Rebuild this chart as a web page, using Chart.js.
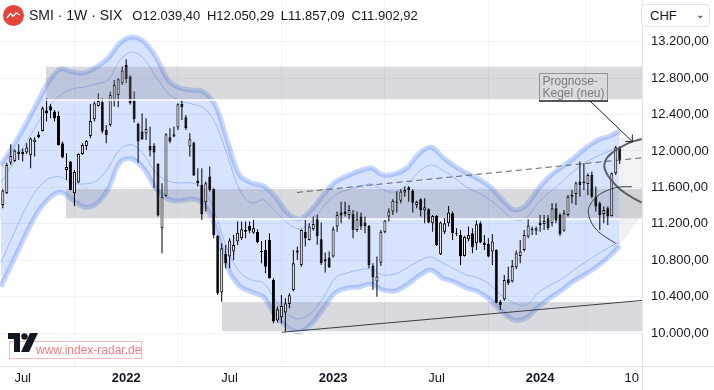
<!DOCTYPE html>
<html>
<head>
<meta charset="utf-8">
<script src="https://cdn.jsdelivr.net/npm/chart.js@4.4.1/dist/chart.umd.min.js"></script>
<style>
html,body{margin:0;padding:0;background:#fff;}
#wrap{position:relative;width:714px;height:390px;overflow:hidden;font-family:"Liberation Sans",Arial,sans-serif;color:#131722;}
#c{position:absolute;left:0;top:0;}
#hdr{position:absolute;left:3px;top:4px;height:22px;display:flex;align-items:center;white-space:nowrap;}
#hdr .sym{font-size:14px;margin-left:5px;}
#hdr .ohlc{font-size:13px;margin-left:10px;word-spacing:3px;}
#chf{position:absolute;left:641px;top:4px;width:69px;height:23px;border:1px solid #e0e3eb;border-radius:4px;box-sizing:border-box;font-size:13px;line-height:21px;padding-left:8px;background:#fff;}
#chf span{position:absolute;right:5px;top:-1px;font-size:10px;color:#131722;}
#wm{position:absolute;left:9px;top:341px;width:133px;height:18px;border:1px solid #f6b8b8;box-sizing:border-box;background:rgba(255,255,255,0.6);}
#wm span{position:absolute;left:26px;top:1px;font-size:12px;color:#f07d7d;white-space:nowrap;}
#tv{position:absolute;left:8px;top:333px;}
</style>
</head>
<body>
<div id="wrap">
<canvas id="c" width="714" height="390"></canvas>
<div id="hdr">
  <svg width="21" height="21" viewBox="0 0 21 21"><circle cx="10.5" cy="10.5" r="10.5" fill="#e5443b"/><path d="M4 13 L7.5 8.5 L10 11.5 L13 8 L17 10" stroke="#fff" stroke-width="1.3" fill="none"/></svg>
  <span class="sym">SMI · 1W · SIX</span>
  <span class="ohlc">O12.039,40 H12.050,29 L11.857,09 C11.902,92</span>
</div>
<div id="chf">CHF<span>&#8964;</span></div>
<div id="wm"><span>www.index-radar.de</span></div>
<svg id="tv" width="30" height="20" viewBox="0 0 30 20"><path d="M0 0 H12 V19 H6 V6 H0 Z" fill="#131722"/><circle cx="16.5" cy="3.5" r="3.2" fill="#131722"/><path d="M22 0 H30 L21 19 H13 Z" fill="#131722"/></svg>
</div>
<script>
// ---- candle data (weekly, index 0 = first visible week) ----
const candleOpen = [11390,11408,11536,11872,11891,11993,11990,11982,11953,12095,
12180,12220,12443,12490,12432,12384,12084,11792,11883,11536,
11653,11967,12055,12165,12348,12494,12534,12231,12286,12560,
12615,12743,12944,12816,12553,12297,12213,12191,12055,12055,
11858,11152,11510,12150,12158,12256,12516,12370,12048,12092,
11675,11627,11437,11719,11580,11068,10446,10870,10841,10896,
11006,11042,11134,11178,11104,11115,10903,10914,11024,10585,
10139,10176,10227,10322,10475,10885,10750,11115,11024,11141,
11250,11031,10812,10830,10841,11170,11324,11335,11298,11306,
11134,11280,11214,11178,10739,10567,10775,11108,11280,11335,
11433,11455,11543,11602,11562,11408,11470,11346,11360,11207,
11287,10867,11115,11207,11317,11097,11079,10848,11031,11097,
10987,11207,10995,10980,10896,10914,10347,10373,10592,10567,
10724,10848,10914,11061,11134,11126,11214,11200,11262,11207,
11371,11298,11126,11298,11499,11529,11664,11646,11638,11737,
11499,11426,11309,11371,11287,11755,12039.40];
const candleHigh = [11400,11580,11872,12074,12019,12074,12026,12084,12147,12150,
12213,12487,12578,12516,12450,12432,12103,11975,11891,11792,
11975,12084,12121,12516,12542,12633,12578,12286,12651,12779,
12798,12926,13006,12830,12651,12310,12414,12359,12267,12084,
11865,11646,12194,12249,12267,12523,12571,12395,12194,12100,
11810,11810,11664,11829,11590,11075,10987,10969,11042,11079,
11225,11225,11225,11225,11243,11141,11013,11024,11097,10603,
10293,10421,10384,10439,10914,10951,11141,11243,11207,11280,
11300,11214,10885,10896,11170,11335,11444,11444,11408,11353,
11335,11324,11280,11189,10768,10841,11134,11243,11371,11470,
11554,11580,11609,11616,11580,11455,11480,11481,11371,11298,
11298,11225,11262,11397,11335,11152,11134,11071,11170,11152,
11236,11225,11079,11042,11090,10922,10366,10640,10731,10805,
10907,11024,11134,11250,11170,11170,11298,11298,11298,11426,
11426,11317,11353,11518,11572,11664,11883,11865,11755,11774,
11609,11444,11390,11390,11763,12055,12050.29];
const candleLow = [11250,11371,11529,11847,11880,11902,11883,11967,11810,11938,
12139,12213,12322,12359,12322,12059,11920,11682,11565,11397,
11646,11957,12011,12139,12322,12487,12194,12084,12267,12487,
12480,12724,12743,12510,12311,11872,12121,12121,11938,11591,
11280,10878,11499,12084,12150,12231,12340,12231,11938,11725,
11609,11243,11335,11554,11042,10420,10347,10713,10713,10805,
10969,11024,11042,11097,11090,10987,10768,10658,10600,10110,
10117,10110,10018,10274,10457,10805,10731,10951,11017,11126,
10970,10750,10666,10715,10830,11115,11207,11280,11251,11042,
11115,11134,11097,10713,10475,10402,10739,11097,11225,11298,
11324,11426,11499,11444,11324,11371,11280,11207,11207,11115,
10958,10860,11090,11170,11024,11068,10750,10841,11006,10878,
10914,10987,10914,10834,10750,10329,10256,10358,10530,10556,
10702,10768,10896,11042,11079,11079,11115,11134,11134,11170,
11207,11068,11115,11280,11426,11408,11499,11572,11518,11481,
11335,11134,11207,11189,11280,11737,11857.09];
const candleClose = [11262,11565,11847,11946,12004,11967,11964,12037,12136,12125,
12150,12469,12414,12443,12355,12063,11927,11825,11572,11770,
11967,12066,12110,12330,12523,12549,12213,12176,12615,12724,
12787,12882,12790,12523,12348,12103,12128,12242,12004,11982,
11291,11499,12183,12103,12183,12512,12479,12253,12128,11730,
11646,11306,11646,11573,11079,10439,10933,10768,11017,10969,
11104,11141,11115,11126,11152,10998,10889,10731,10603,10128,
10263,10300,10329,10417,10768,10907,11134,11042,11170,11200,
11065,10768,10786,10724,11141,11298,11291,11309,11353,11134,
11251,11170,11178,10750,10614,10622,11115,11236,11335,11455,
11444,11554,11572,11572,11433,11444,11350,11382,11214,11287,
10969,11214,11207,11324,11097,11086,10841,11060,11079,10944,
11196,10995,10969,10841,11006,10336,10311,10585,10549,10739,
10878,10896,11079,11181,11148,11152,11189,11232,11152,11371,
11236,11090,11317,11499,11518,11646,11627,11664,11737,11499,
11390,11298,11353,11280,11755,12041,11902.92];

// ---- envelope band (sampled every 3 weeks) ----
const bandX = [0.5,3.5,6.5,9.5,12.5,15.5,18.5,21.5,24.5,27.5,30.5,33.5,36.5,39.5,42.5,45.5,48.5,51.5,54.5,57.5,
60.5,63.5,66.5,69.5,72.5,75.5,78.5,81.5,84.5,87.5,90.5,93.5,96.5,99.5,102.5,105.5,108.5,111.5,114.5,117.5,
120.5,123.5,126.5,129.5,132.5,135.5,138.5,141.5,144.5,147.5,150.5,153.5,156];
const bandOuterUpper = [11846,12044,12274,12515,12757,12899,12866,12856,12921,13020,13185,13250,13196,13031,12779,12691,12669,12647,12493,12099,
11737,11649,11616,11495,11320,11254,11353,11517,11660,11726,11780,11813,11737,11748,11813,11967,12044,11934,11835,11758,
11693,11605,11462,11353,11407,11583,11726,11824,11923,12033,12121,12164,12219];
const bandInnerUpper = [11649,11857,12066,12285,12483,12614,12680,12702,12735,12779,12998,13086,13009,12812,12636,12548,12515,12472,12296,11945,
11572,11429,11462,11331,11210,11144,11221,11386,11517,11572,11605,11638,11572,11550,11627,11769,11846,11791,11704,11605,
11539,11462,11353,11243,11265,11429,11550,11660,11780,11879,11945,12000,12033];
const bandInnerLower = [10771,11067,11353,11572,11693,11715,11649,11638,11671,11813,12022,12066,11956,11758,11671,11649,11649,11583,11298,10914,
10672,10585,10552,10365,10212,10157,10223,10387,10607,10661,10694,10705,10640,10651,10716,10793,10837,10771,10705,10640,
10607,10530,10409,10332,10310,10442,10530,10596,10694,10782,10870,10947,11002];
const bandOuterLower = [10508,10782,11056,11309,11473,11550,11462,11386,11418,11583,11879,11912,11802,11583,11473,11451,11473,11418,11155,10716,
10519,10453,10398,10190,10069,10014,10102,10267,10442,10497,10508,10541,10475,10464,10530,10629,10694,10607,10563,10497,
10453,10365,10234,10146,10168,10289,10387,10475,10574,10651,10738,10848,10958];

// ---- horizontal zones ----
const zoneStart = [11.86, 16.88, 56.08];
const zoneLow = [12559, 11254, 10014];
const zoneHigh = [12925, 11583, 10343];

// ---- trend lines ----
const dashedLineX = [74.92, 161.6];
const dashedLineY = [11545, 11925];
const supportLineX = [71.16, 161.6];
const supportLineY = [10011, 10360];

// ---- forecast cone ----
const coneUpperX = [161.53,159.17,156.51,154.14,152.73,152.13,152.49,153.82,156.08,159.02,161.53];
const coneUpperY = [12131,12102,12047,11981,11920,11846,11773,11682,11580,11492,11433];
const coneLowerX = [159.02,155.65,152.73,150.23,148.54,148.12,148.79,150.23,152.31,154.99];
const coneLowerY = [11608,11602,11564,11499,11407,11334,11224,11133,11060,10987];
const coneFillX = [156.08, 161.6];
const coneFillTop = [12154, 12154];
const coneFillBottom = [10969, 11298];
const arrowX = [148.54, 159.17];
const arrowY = [12548, 12102];
const noteX = [135.8, 152.73];
const noteY = [12859, 12552];
const noteLines = ['Prognose-', 'Kegel (neu)'];

// ---- axes ----
const xTickValues = [6, 32, 58, 84, 110, 136, 159];
const xTickLabels = ['Jul', '2022', 'Jul', '2023', 'Jul', '2024', '10'];
const yTickValues = [10000, 10400, 10800, 11200, 11600, 12000, 12400, 12800, 13200];
const xMin = 0.30, xMax = 161.6, yMin = 9641, yMax = 13656;

function fmtDE(v) {
  const s = v.toFixed(2).split('.');
  return s[0].replace(/\B(?=(\d{3})+(?!\d))/g, '.') + ',' + s[1];
}
const pts = (xs, ys) => xs.map((x, k) => ({x: x, y: ys[k]}));
const idx = candleOpen.map((_, i) => i);
const NONE = 'rgba(0,0,0,0)';

Chart.defaults.font.family = '"Liberation Sans", Arial, sans-serif';
Chart.defaults.font.size = 13;
Chart.defaults.color = '#131722';

const lineBase = {type: 'line', pointRadius: 0, tension: 0, fill: false, borderWidth: 1};
let seq = 0;
const ord = () => 100 - (++seq);

const datasets = [];
// band
datasets.push(Object.assign({}, lineBase, {data: pts(bandX, bandOuterUpper), tension: 0.35, borderColor: 'rgba(70,120,245,0.3)', borderWidth: 5, fill: '+1', backgroundColor: 'rgba(41,98,255,0.18)', order: ord()}));
datasets.push(Object.assign({}, lineBase, {data: pts(bandX, bandOuterLower), tension: 0.35, borderColor: 'rgba(70,120,245,0.3)', borderWidth: 5, order: ord()}));
datasets.push(Object.assign({}, lineBase, {data: pts(bandX, bandInnerUpper), tension: 0.35, borderColor: 'rgba(41,98,255,0.32)', order: ord()}));
datasets.push(Object.assign({}, lineBase, {data: pts(bandX, bandInnerLower), tension: 0.35, borderColor: 'rgba(41,98,255,0.32)', order: ord()}));
function zone(k) {
  datasets.push(Object.assign({}, lineBase, {data: [{x: zoneStart[k], y: zoneHigh[k]}, {x: xMax, y: zoneHigh[k]}], borderColor: NONE, borderWidth: 0, fill: '+1', backgroundColor: 'rgba(120,123,134,0.28)', order: ord()}));
  datasets.push(Object.assign({}, lineBase, {data: [{x: zoneStart[k], y: zoneLow[k]}, {x: xMax, y: zoneLow[k]}], borderColor: '#ffffff', borderWidth: 1.5, order: ord()}));
}
zone(1); zone(2);
datasets.push(Object.assign({}, lineBase, {data: pts(dashedLineX, dashedLineY), borderColor: '#5d606b', borderDash: [6, 4], order: ord()}));
datasets.push(Object.assign({}, lineBase, {data: pts(supportLineX, supportLineY), borderColor: '#3a3d45', order: ord()}));
// candles
datasets.push({type: 'bar', data: idx.map(i => ({x: i, y: [candleLow[i], candleHigh[i]]})), backgroundColor: '#000', barThickness: 1, grouped: false, minBarLength: 1, inflateAmount: 0, order: ord()});
datasets.push({type: 'bar', data: idx.map(i => ({x: i, y: [Math.min(candleOpen[i], candleClose[i]), Math.max(candleOpen[i], candleClose[i])]})),
  backgroundColor: idx.map(i => candleClose[i] >= candleOpen[i] ? '#ffffff' : '#000000'),
  borderColor: '#000000', borderWidth: 1, borderSkipped: false, barThickness: 3, grouped: false, minBarLength: 1, inflateAmount: 0, order: ord()});
zone(0);
// cone
datasets.push(Object.assign({}, lineBase, {data: pts(coneFillX, coneFillTop), borderColor: NONE, borderWidth: 0, fill: '+1', backgroundColor: 'rgba(120,123,134,0.1)', order: ord()}));
datasets.push(Object.assign({}, lineBase, {data: pts(coneFillX, coneFillBottom), borderColor: NONE, borderWidth: 0, order: ord()}));
datasets.push(Object.assign({}, lineBase, {data: pts(coneUpperX, coneUpperY), tension: 0.4, borderColor: '#5d5f66', borderWidth: 2, order: ord()}));
datasets.push(Object.assign({}, lineBase, {data: pts(coneLowerX, coneLowerY), tension: 0.4, borderColor: '#3a3c42', borderWidth: 1, order: ord()}));
datasets.push(Object.assign({}, lineBase, {data: pts(arrowX, arrowY), borderColor: '#1e1f24', order: ord()}));
datasets.push(Object.assign({}, lineBase, {data: [{x: arrowX[1] - 1.83, y: arrowY[1]}, {x: arrowX[1], y: arrowY[1]}, {x: arrowX[1], y: arrowY[1] + 79}], borderColor: '#1e1f24', order: ord()}));

const notePlugin = {
  id: 'note',
  afterDatasetsDraw(chart) {
    const xs = chart.scales.x, ys = chart.scales.y, ctx = chart.ctx;
    const l = Math.round(xs.getPixelForValue(noteX[0])) + 0.5, r = Math.round(xs.getPixelForValue(noteX[1])) + 0.5;
    const t = Math.round(ys.getPixelForValue(noteY[0])) + 0.5, b = Math.round(ys.getPixelForValue(noteY[1]));
    ctx.save();
    ctx.strokeStyle = '#8f929b'; ctx.lineWidth = 1;
    ctx.beginPath(); ctx.moveTo(l, b); ctx.lineTo(l, t); ctx.lineTo(r, t); ctx.lineTo(r, b); ctx.stroke();
    ctx.strokeStyle = '#1e1f24'; ctx.lineWidth = 1.5;
    ctx.beginPath(); ctx.moveTo(l - 0.5, b); ctx.lineTo(r + 0.5, b); ctx.stroke();
    ctx.fillStyle = '#787b86'; ctx.font = '12px "Liberation Sans", Arial, sans-serif'; ctx.textBaseline = 'middle';
    ctx.fillText(noteLines[0], l + 3, t + 8.5);
    ctx.fillText(noteLines[1], l + 3, t + 20);
    ctx.restore();
  },
  afterDraw(chart) {
    const a = chart.chartArea, ctx = chart.ctx;
    ctx.save(); ctx.strokeStyle = '#e0e3eb'; ctx.lineWidth = 1;
    ctx.beginPath();
    ctx.moveTo(Math.round(a.right) + 0.5, 0); ctx.lineTo(Math.round(a.right) + 0.5, chart.height);
    ctx.moveTo(0, Math.round(a.bottom) + 0.5); ctx.lineTo(chart.width, Math.round(a.bottom) + 0.5);
    ctx.stroke(); ctx.restore();
  }
};
const noPad = s => { s.paddingTop = 0; s.paddingBottom = 0; s.paddingLeft = 0; s.paddingRight = 0; };

new Chart(document.getElementById('c'), {
  type: 'bar',
  data: {datasets: datasets},
  options: {
    responsive: false, animation: false, devicePixelRatio: 1, events: [],
    layout: {padding: 0},
    plugins: {legend: {display: false}, tooltip: {enabled: false}},
    scales: {
      x: {
        type: 'linear', min: xMin, max: xMax, offset: false,
        afterFit: s => { s.height = 24; noPad(s); },
        afterBuildTicks: s => { s.ticks = xTickValues.map(v => ({value: v})); },
        grid: {color: '#f0f3fa', drawTicks: false},
        border: {display: false},
        ticks: {
          padding: 5, maxRotation: 0, autoSkip: false, color: '#131722',
          callback: (v, i) => xTickLabels[i],
          font: ctx => ({size: 13, weight: /^\d{4}$/.test(xTickLabels[ctx.index]) ? 'bold' : 'normal'})
        }
      },
      y: {
        type: 'linear', position: 'right', min: yMin, max: yMax,
        afterFit: s => { s.width = 72; noPad(s); },
        afterBuildTicks: s => { s.ticks = yTickValues.map(v => ({value: v})); },
        grid: {color: '#f0f3fa', drawTicks: false},
        border: {display: false},
        ticks: {padding: 9, color: '#131722', callback: v => fmtDE(v)}
      }
    }
  },
  plugins: [notePlugin]
});
</script>
</body>
</html>
